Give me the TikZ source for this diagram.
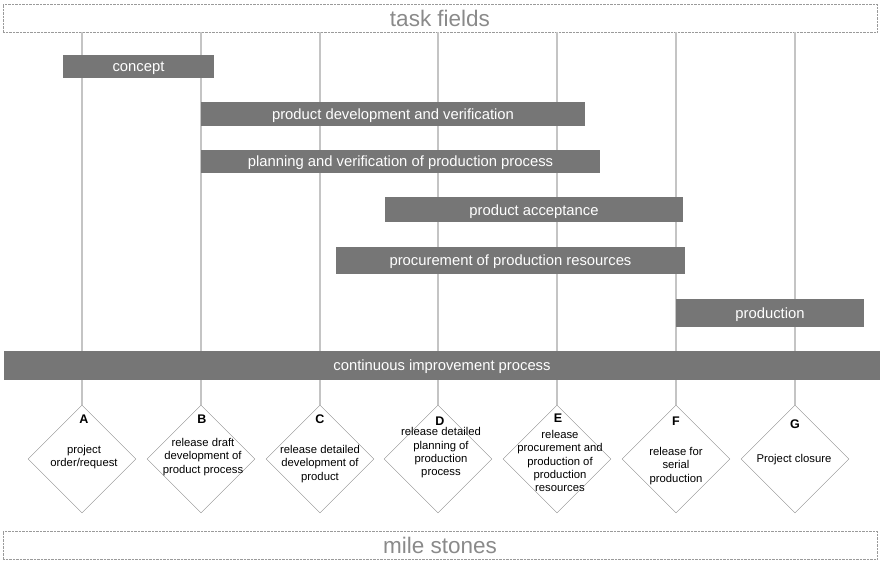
\documentclass[tikz,border=0pt]{standalone}
\usepackage{fontspec}
\setmainfont{Liberation Sans}
\usetikzlibrary{shapes.geometric}
\definecolor{barfill}{HTML}{767676}
\definecolor{headtext}{HTML}{8A8A8A}
\definecolor{headline}{HTML}{9A9A9A}
\definecolor{guideline}{HTML}{C4C4C4}
\definecolor{diamondline}{HTML}{8C8C8C}
\begin{document}
\begin{tikzpicture}[x=1pt, y=-1pt,
        header/.style={draw=headline, densely dotted, text=headtext, minimum width=874pt,
            minimum height=28pt, inner sep=0pt, font=\fontsize{22.5}{25}\selectfont},
        bar/.style={fill=barfill, text=white, inner sep=0pt, text depth=0pt,
            font=\fontsize{14.8}{17}\selectfont},
        milestone/.style={diamond, aspect=1, draw=diamondline, fill=white,
            minimum width=108pt, minimum height=108pt, inner sep=0pt},
        msletter/.style={inner sep=0pt, font=\fontsize{12.5}{14}\selectfont\bfseries},
        mstext/.style={align=center, inner sep=0pt, font=\fontsize{11.3}{13.3}\selectfont},
        guide/.style={draw=guideline, line width=1.2pt}]

        \useasboundingbox (0,0) rectangle (880,561);

        % frames for the two rows
        \node[header] (fields) at (440,18) {task fields};
        \node[header] (stones) at (440,545) {mile stones};

        % milestones
        \node[milestone] (A) at (82,459) {};
        \node[milestone] (B) at (201,459) {};
        \node[milestone] (C) at (320,459) {};
        \node[milestone] (D) at (438,459) {};
        \node[milestone] (E) at (557,459) {};
        \node[milestone] (F) at (676,459) {};
        \node[milestone] (G) at (795,459) {};

        \node[msletter] (Aletter) at (84,419) {A};
        \node[msletter] (Bletter) at (202,419) {B};
        \node[msletter] (Cletter) at (320,419) {C};
        \node[msletter] (Dletter) at (440,421) {D};
        \node[msletter] (Eletter) at (558,418) {E};
        \node[msletter] (Fletter) at (676,421) {F};
        \node[msletter] (Gletter) at (795,424) {G};

        \node[mstext] (Atext) at (84,457) {project\\order/request};
        \node[mstext] (Btext) at (203,457) {release draft\\development of\\product process};
        \node[mstext] (Ctext) at (320,464) {release detailed\\development of\\product};
        \node[mstext] (Dtext) at (441,453) {release detailed\\planning of\\production\\process};
        \node[mstext] (Etext) at (560,461) {release\\procurement and\\production of\\production\\resources};
        \node[mstext] (Ftext) at (676,466) {release for\\serial\\production};
        \node[mstext] (Gtext) at (794,460) {Project closure};

        % time lines
        \foreach \ms in {A,B,C,D,E,F,G}
            \draw[guide] (fields.south -| \ms.north) -- (\ms.north);

        % task fields
        \node[bar, minimum width=151pt, minimum height=23pt] (concept) at (138.5,66.5) {concept};
        \node[bar, minimum width=384pt, minimum height=24pt] (proddev) at (393,114) {product development and verification};
        \node[bar, minimum width=399pt, minimum height=23pt] (planning) at (400.5,161.5) {planning and verification of production process};
        \node[bar, minimum width=298pt, minimum height=25pt] (acceptance) at (534,210) {product acceptance};
        \node[bar, minimum width=349pt, minimum height=27pt] (procurement) at (510.5,260.5) {procurement of production resources};
        \node[bar, minimum width=188pt, minimum height=28pt] (production) at (770,313) {production};
        \node[bar, minimum width=876pt, minimum height=29pt] (improvement) at (442,365.5) {continuous improvement process};
\end{tikzpicture}
\end{document}
